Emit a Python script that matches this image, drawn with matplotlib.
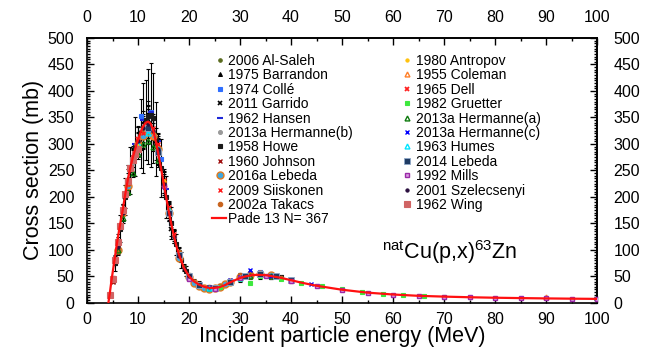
import matplotlib
matplotlib.use("Agg")
import matplotlib.pyplot as plt
from matplotlib.ticker import MultipleLocator, FixedLocator

plt.rcParams['font.family'] = ['Liberation Sans', 'DejaVu Sans']
plt.rcParams['mathtext.fontset'] = 'custom'
plt.rcParams['mathtext.rm'] = 'Liberation Sans'
plt.rcParams['mathtext.it'] = 'Liberation Sans'

# ---- axis ticks ----
x_ticks = [0, 10, 20, 30, 40, 50, 60, 70, 80, 90, 100]
y_ticks = [0, 50, 100, 150, 200, 250, 300, 350, 400, 450, 500]

# ---- Pade fit curve ----
pade_e = [4.2, 4.5, 4.8, 5.0, 5.5, 6.0, 6.5, 7.0, 7.5, 8.0, 8.5, 9.0, 9.5, 10.0, 10.5, 11.0, 11.5, 12.0,
          12.5, 13.0, 13.5, 14.0, 14.5, 15.0, 15.5, 16.0, 16.5, 17.0, 17.5, 18.0, 19.0, 20.0, 21.0, 22.0,
          23.0, 24.0, 25.0, 26.0, 27.0, 28.0, 29.0, 30.0, 31.0, 32.0, 33.0, 34.0, 35.0, 36.0, 38.0, 40.0,
          42.0, 45.0, 50.0, 55.0, 60.0, 65.0, 70.0, 75.0, 80.0, 85.0, 90.0, 95.0, 100.0]
pade_s = [0, 20, 42, 55, 88, 120, 148, 175, 205, 232, 255, 275, 292, 308, 322, 333, 340, 342,
          338, 325, 305, 280, 255, 228, 200, 175, 150, 128, 108, 92, 66, 50, 40, 34,
          30, 28, 28, 29.5, 33, 38, 42.5, 46.5, 49.5, 51.5, 52.5, 52.5, 52, 50.5, 47, 42.5,
          38, 32, 24.5, 19, 15.5, 13, 11.5, 10.3, 9.4, 8.7, 8.1, 7.6, 7.2]
pade_label = 'Pade 13 N= 367'

# ---- experimental data sets ----
alsaleh_e = [5.5, 7, 9, 11, 13, 15, 17, 19, 21]
alsaleh_s = [80, 172, 268, 330, 322, 226, 126, 68, 40]
alsaleh_err = [8, 15, 22, 26, 26, 18, 10, 6, 4]

barrandon_e = [6, 8, 10, 12, 14, 16, 18, 20]
barrandon_s = [112, 236, 302, 346, 286, 172, 90, 50]
barrandon_err = [12, 24, 30, 35, 29, 17, 9, 5]

colle_e = [8.5, 10.5, 12.5, 14.5, 16.5, 18.5, 22, 26, 30, 34]
colle_s = [255, 352, 360, 272, 150, 80, 33, 31, 49, 58]

garrido_e = [6, 7.5, 9, 10.5, 12, 13.5, 15, 16.5, 18]
garrido_s = [115, 200, 265, 320, 340, 300, 230, 140, 95]
garrido_err = [15, 22, 28, 32, 34, 30, 23, 14, 10]

hansen_e = [9.5, 11, 12.5, 14, 15.5]
hansen_s = [300, 345, 360, 305, 215]

hermb_e = [5, 7, 9, 11, 13, 15, 17, 20, 24, 28, 32, 36]
hermb_s = [45, 165, 265, 322, 316, 220, 125, 48, 28, 40, 50, 50]
hermb_err = [5, 15, 24, 30, 30, 20, 12, 5, 3, 4, 5, 5]

howe_e = [5.5, 6.5, 7.5, 8.5, 9.5, 10.5, 11.0, 11.5, 12.0, 12.5, 13.0, 13.5, 14.5, 15.5, 16.5, 17.5,
          18.5, 19.5, 22, 26, 30, 34, 38]
howe_s = [75, 140, 200, 250, 295, 320, 330, 345, 352, 355, 348, 310, 255, 200, 150, 110,
          80, 60, 35, 30, 45, 52, 48]
howe_err = [15, 25, 35, 45, 55, 65, 85, 75, 90, 98, 85, 70, 55, 40, 30, 20,
            15, 10, 6, 5, 6, 7, 5]

johnson_e = [5, 6, 7, 8, 9, 10, 11, 12]
johnson_s = [40, 105, 175, 230, 275, 305, 330, 340]

lebeda16_e = [6, 8, 10, 11, 12, 13, 14, 16, 18, 20, 21, 22, 23, 24, 25, 26, 27, 28, 30, 32, 34, 36]
lebeda16_s = [100, 220, 300, 315, 325, 315, 290, 170, 85, 48, 38, 32, 28, 26, 28, 30, 35, 40, 48, 52, 55, 53]
lebeda16_err = [8, 16, 22, 24, 25, 24, 22, 13, 7, 4, 3, 3, 3, 3, 3, 3, 3, 3, 4, 4, 4, 4]

siiskonen_e = [9, 10, 11, 12, 13, 14, 15, 16, 17]
siiskonen_s = [275, 300, 320, 335, 330, 300, 232, 180, 130]
siiskonen_err = [18, 20, 22, 23, 23, 21, 16, 12, 9]

takacs_e = [5, 6, 7, 8, 10, 12, 14, 16, 18, 20, 22, 24, 26, 28, 30, 32, 34, 36, 38, 40]
takacs_s = [42, 100, 170, 225, 305, 335, 285, 175, 95, 52, 35, 30, 32, 40, 52, 55, 53, 50, 47, 42]
takacs_err = [4, 9, 15, 20, 27, 30, 25, 15, 8, 5, 3, 3, 3, 4, 5, 5, 5, 5, 4, 4]

antropov_e = [10, 15, 20, 30, 40, 50, 60, 70, 80, 90]
antropov_s = [300, 230, 50, 48, 42, 24, 15, 11, 9, 8]

coleman_e = [7, 9, 11, 13, 15, 90]
coleman_s = [170, 270, 330, 315, 225, 10]

dell_e = [6, 8, 10, 12, 14]
dell_s = [110, 225, 310, 330, 280]

gruetter_e = [18, 22, 26, 30, 32, 34, 38, 42, 46, 50, 54, 58, 62, 66, 70]
gruetter_s = [90, 34, 30, 45, 38, 50, 45, 38, 32, 25, 21, 17, 14, 12, 11]

herma_e = [5, 6, 7, 8, 9, 10, 11, 12, 13, 14, 16, 18, 20, 24, 28, 32, 36]
herma_s = [45, 100, 160, 210, 245, 280, 300, 305, 295, 270, 175, 90, 50, 28, 40, 50, 50]

hermc_e = [20, 24, 28, 30, 32, 34, 36, 40, 44]
hermc_s = [50, 30, 42, 48, 62, 55, 51, 42, 35]

humes_e = [10, 12, 14, 16, 20, 24, 30]
humes_s = [300, 320, 290, 175, 48, 27, 47]

lebeda14_e = [12, 14, 16, 18, 20, 22, 25, 28, 31, 34, 37, 40]
lebeda14_s = [330, 285, 170, 90, 50, 33, 28, 40, 50, 54, 50, 43]

mills_e = [15, 20, 25, 30, 35, 40, 45, 50, 55, 60, 65, 70, 75, 80, 85, 90, 95, 100]
mills_s = [220, 45, 25, 47, 50, 41, 32, 24, 19, 15, 13, 11, 10, 9, 8.5, 8, 7.5, 7]

szel_e = [5, 6, 7, 8, 9, 10, 11, 12, 13, 14, 15, 16, 17, 18, 19, 20]
szel_s = [45, 105, 170, 230, 270, 305, 330, 338, 325, 290, 225, 170, 125, 88, 65, 50]
szel_err = [5, 10, 16, 22, 26, 29, 32, 33, 31, 28, 22, 16, 12, 8, 6, 5]

wing_e = [4.6, 5, 5.5, 6, 6.5, 7, 7.5, 8, 8.5, 9, 9.5, 10]
wing_s = [15, 45, 80, 115, 145, 175, 205, 230, 255, 270, 280, 290]

W, H = 665, 354
fig = plt.figure(figsize=(W / 100, H / 100), dpi=100)
ax = fig.add_axes([87 / W, 1 - 302.7 / H, 510 / W, 264.7 / H])

legend_items = []

def series(e, s, err, marker, color, ms, label, mfc=None, mec=None, mew=0.8):
    if mfc is None:
        mfc = color
    if mec is None:
        mec = color
    if err is not None:
        ax.errorbar(e, s, yerr=err, fmt='none', ecolor='black', elinewidth=0.8,
                    capsize=1.5, capthick=0.8, zorder=2)
    ax.plot(e, s, linestyle='none', marker=marker, ms=ms, mfc=mfc, mec=mec, mew=mew, zorder=3)
    legend_items.append(('marker', label, dict(marker=marker, ms=ms, mfc=mfc, mec=mec, mew=mew)))

series(alsaleh_e, alsaleh_s, alsaleh_err, 'o', '#5a6b1e', 2.5, '2006 Al-Saleh')
series(barrandon_e, barrandon_s, barrandon_err, '^', 'black', 2.8, '1975 Barrandon')
series(colle_e, colle_s, None, 's', '#2f6fff', 2.3, '1974 Collé')
series(garrido_e, garrido_s, garrido_err, 'x', 'black', 3.0, '2011 Garrido', mew=1.2)
series(hansen_e, hansen_s, None, '_', '#1e28d8', 5, '1962 Hansen', mew=1.5)
series(hermb_e, hermb_s, hermb_err, 'o', '#9a9a9a', 2.8, '2013a Hermanne(b)')
series(howe_e, howe_s, howe_err, 's', '#1a1a1a', 2.5, '1958 Howe')
series(johnson_e, johnson_s, None, 'x', '#a01010', 3.0, '1960 Johnson', mew=1.0)
series(lebeda16_e, lebeda16_s, lebeda16_err, 'o', '#3fa7df', 5.0, '2016a Lebeda', mfc='#3fa7df', mec='#e07a1f', mew=1.0)
series(siiskonen_e, siiskonen_s, siiskonen_err, 'x', '#ff1a1a', 3.2, '2009 Siiskonen', mew=1.0)
series(takacs_e, takacs_s, takacs_err, 'o', '#c8641e', 3.2, '2002a Takacs')

ax.plot(pade_e, pade_s, color='#ff1010', lw=1.6, zorder=4)
legend_items.append(('line', pade_label, dict(color='#ff1010', lw=1.6)))

series(antropov_e, antropov_s, None, 'o', '#ffc20e', 2.3, '1980 Antropov')
series(coleman_e, coleman_s, None, '^', '#ff7f27', 3.5, '1955 Coleman', mfc='none', mew=1.0)
series(dell_e, dell_s, None, 'x', '#ff2020', 3.2, '1965 Dell', mew=1.3)
series(gruetter_e, gruetter_s, None, 's', '#3ee83e', 2.6, '1982 Gruetter')
series(herma_e, herma_s, None, '^', '#0d7a0d', 3.5, '2013a Hermanne(a)', mfc='none', mew=1.0)
series(hermc_e, hermc_s, None, 'x', '#0000ff', 3.0, '2013a Hermanne(c)', mew=1.0)
series(humes_e, humes_s, None, '^', '#00e5ff', 3.5, '1963 Humes', mfc='none', mew=1.0)
series(lebeda14_e, lebeda14_s, None, 's', '#1f3b63', 3.8, '2014 Lebeda', mec='#8fa8c8', mew=0.6)
series(mills_e, mills_s, None, 's', '#9b2aa8', 3.2, '1992 Mills', mfc='#d8a0e0', mew=1.0)
series(szel_e, szel_s, szel_err, 'o', '#2a0f3f', 2.3, '2001 Szelecsenyi')
series(wing_e, wing_s, None, 's', '#d06464', 4.5, '1962 Wing')

# ---- legend, laid out in two columns ----
col_marker_x = [220, 407]
col_text_x = [228, 416.5]
row0_y, row_dy = 60, 14.4
n_col1 = 12
for i, (kind, label, style) in enumerate(legend_items):
    c = 0 if i < n_col1 else 1
    r = i if i < n_col1 else i - n_col1
    yy = 1 - (row0_y + r * row_dy) / H
    xm = col_marker_x[c] / W
    if kind == 'line':
        fig.add_artist(plt.Line2D([212 / W, 226 / W], [yy, yy], transform=fig.transFigure, **style))
    else:
        fig.add_artist(plt.Line2D([xm], [yy], transform=fig.transFigure, linestyle='none', **style))
    fig.text(col_text_x[c] / W, yy - 5 / H, label, fontsize=10, ha='left', va='baseline')

ax.text(57.8, 96, r'$\mathregular{^{nat}}$Cu(p,x)$\mathregular{^{63}}$Zn', fontsize=15.5,
        ha='left', va='center')

ax.set_xlim(0, 100)
ax.set_ylim(0, 500)
ax.xaxis.set_major_locator(FixedLocator(x_ticks))
ax.xaxis.set_minor_locator(MultipleLocator(5))
ax.yaxis.set_major_locator(FixedLocator(y_ticks))
ax.yaxis.set_minor_locator(MultipleLocator(5))
ax.tick_params(which='both', direction='in', top=True, right=True,
               labeltop=False, labelright=False, labelsize=11.5, width=1.0)
ax.tick_params(which='major', length=5)
ax.tick_params(which='minor', length=2.5)
ax.tick_params(axis='x', which='major', pad=7)
ax.tick_params(axis='y', which='major', pad=9)
for sp in ax.spines.values():
    sp.set_linewidth(1.2)

# labels on the top and right sides
secx = ax.secondary_xaxis('top')
secx.xaxis.set_major_locator(FixedLocator(x_ticks))
secx.tick_params(direction='in', length=0, pad=9, labelsize=11.5)
secx.spines['top'].set_linewidth(1.2)
secy = ax.secondary_yaxis('right')
secy.yaxis.set_major_locator(FixedLocator(y_ticks))
secy.tick_params(direction='in', length=0, pad=12, labelsize=11.5)
secy.spines['right'].set_linewidth(1.2)

ax.set_xlabel('Incident particle energy (MeV)', fontsize=15.5, labelpad=-1)
ax.set_ylabel('Cross section (mb)', fontsize=15.5, labelpad=3)

fig.savefig('out.png', dpi=100)
